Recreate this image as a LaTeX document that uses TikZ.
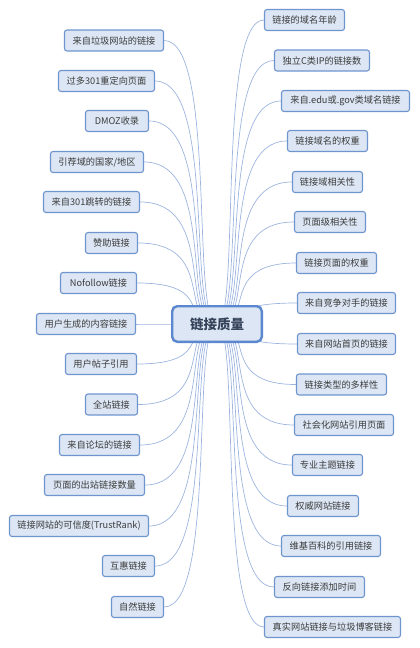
\documentclass[tikz,border=0pt]{standalone}
\usepackage{fontspec}
\setmainfont{Noto Sans CJK SC}
\usetikzlibrary{calc}
\pgfdeclarelayer{bg}
\pgfsetlayers{bg,main}
\definecolor{boxfill}{HTML}{DCE6F4}
\definecolor{boxline}{HTML}{6F95CF}
\definecolor{ctrline}{HTML}{5A87CD}
\definecolor{connline}{HTML}{9DB4DE}
\definecolor{txt}{HTML}{3C3C3C}
\definecolor{ctrtxt}{HTML}{34435A}
\tikzset{
  topic/.style={draw=boxline, fill=boxfill, line width=1.1pt, rounded corners=2.5pt,
    minimum height=21pt, inner xsep=2pt, inner ysep=0pt, text=txt,
    font=\fontsize{9.2}{11}\selectfont},
  central/.style={draw=ctrline, fill=boxfill, line width=2.4pt, rounded corners=5pt,
    minimum width=89.6pt, minimum height=35.6pt, text=ctrtxt,
    font=\fontsize{13.5}{15}\selectfont\bfseries},
  conn/.style={draw=connline, line width=0.7pt},
}
\newcommand\mmlink[2]{%
  \coordinate (mmA) at (c.center);
  \coordinate (mmB) at (#1.#2);
  \coordinate (mmM) at ($(mmA)!0.5!(mmB)$);
  \draw[conn] (mmA) .. controls (mmM |- mmA) and (mmA |- mmB) .. (mmB);
}
\begin{document}
\begin{tikzpicture}[x=1pt,y=-1pt]
\useasboundingbox (0,0) rectangle (420,648);
\node[central] (c) at (217,324) {链接质量};
% left side
\node[topic, minimum width=99pt] (L1) at (114,40.5) {来自垃圾网站的链接};
\node[topic, minimum width=96pt] (L2) at (106.5,81) {过多301重定向页面};
\node[topic, minimum width=63pt] (L3) at (117,121) {DMOZ收录};
\node[topic, minimum width=93pt] (L4) at (97,162) {引荐域的国家/地区};
\node[topic, minimum width=96pt] (L5) at (91.5,202) {来自301跳转的链接};
\node[topic, minimum width=52pt] (L6) at (111.5,243) {赞助链接};
\node[topic, minimum width=76pt] (L7) at (98.5,283) {Nofollow链接};
\node[topic, minimum width=99pt] (L8) at (86,324) {用户生成的内容链接};
\node[topic, minimum width=71pt] (L9) at (101,364) {用户帖子引用};
\node[topic, minimum width=52pt] (L10) at (111.5,404.5) {全站链接};
\node[topic, minimum width=80pt] (L11) at (99.5,445) {来自论坛的链接};
\node[topic, minimum width=100pt] (L12) at (94.5,485) {页面的出站链接数量};
\node[topic, minimum width=139pt] (L13) at (79,526) {链接网站的可信度(TrustRank)};
\node[topic, minimum width=52pt] (L14) at (128.5,566) {互惠链接};
\node[topic, minimum width=52pt] (L15) at (137.5,607) {自然链接};
% right side
\node[topic, minimum width=80pt] (R1) at (304.5,20) {链接的域名年龄};
\node[topic, minimum width=95pt] (R2) at (322,60.5) {独立C类IP的链接数};
\node[topic, minimum width=128pt] (R3) at (345.5,101) {来自.edu或.gov类域名链接};
\node[topic, minimum width=80pt] (R4) at (327.5,141) {链接域名的权重};
\node[topic, minimum width=70pt] (R5) at (327.5,182) {链接域相关性};
\node[topic, minimum width=71pt] (R6) at (330,222) {页面级相关性};
\node[topic, minimum width=80pt] (R7) at (336.5,263) {链接页面的权重};
\node[topic, minimum width=98pt] (R8) at (346.5,303) {来自竞争对手的链接};
\node[topic, minimum width=98pt] (R9) at (346.5,344) {来自网站首页的链接};
\node[topic, minimum width=90pt] (R10) at (341.5,384.5) {链接类型的多样性};
\node[topic, minimum width=99pt] (R11) at (344,425) {社会化网站引用页面};
\node[topic, minimum width=70pt] (R12) at (327.5,465) {专业主题链接};
\node[topic, minimum width=71pt] (R13) at (323,506) {权威网站链接};
\node[topic, minimum width=99pt] (R14) at (331,546) {维基百科的引用链接};
\node[topic, minimum width=90pt] (R15) at (319.5,587) {反向链接添加时间};
\node[topic, minimum width=136pt] (R16) at (332.5,627) {真实网站链接与垃圾博客链接};
\begin{pgfonlayer}{bg}
\foreach \i in {1,...,15} {\mmlink{L\i}{east}}
\foreach \i in {1,...,16} {\mmlink{R\i}{west}}
\end{pgfonlayer}
\end{tikzpicture}
\end{document}
